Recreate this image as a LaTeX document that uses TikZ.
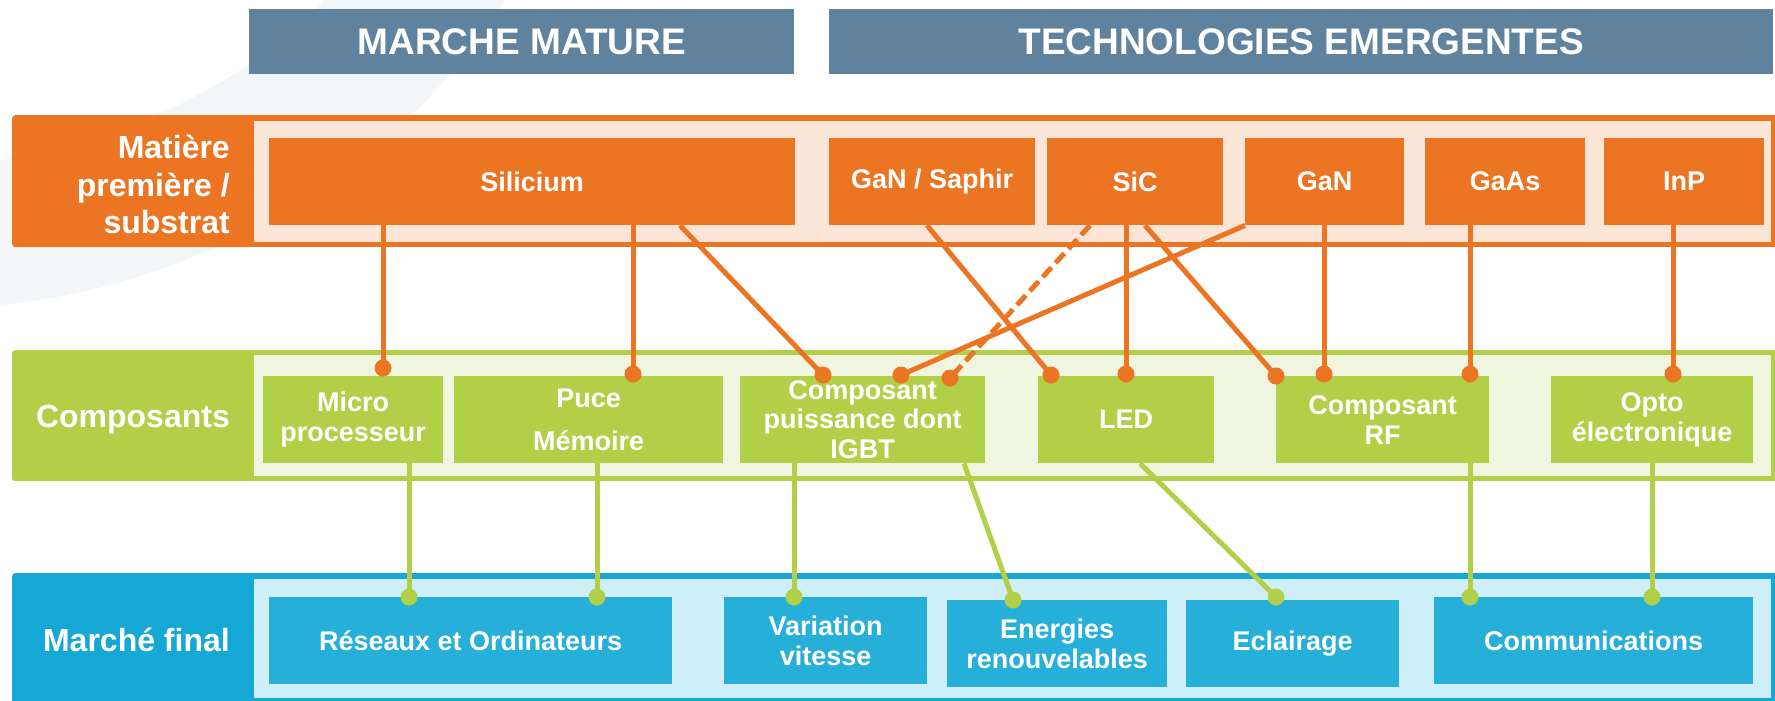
\documentclass[tikz,border=0pt]{standalone}
\usepackage{fontspec}
\setmainfont{Liberation Sans}
\definecolor{org}{HTML}{EC7523}
\definecolor{peach}{HTML}{FBE5D6}
\definecolor{grn}{HTML}{B1D048}
\definecolor{lgrn}{HTML}{EFF5DE}
\definecolor{blu}{HTML}{15A8D5}
\definecolor{mblu}{HTML}{26AFD8}
\definecolor{lblu}{HTML}{CFEFF8}
\definecolor{hdr}{HTML}{5F829E}
\definecolor{swoosh}{HTML}{F2F6F9}
\newcommand{\myheadfont}{\bfseries\fontsize{37}{42}\selectfont}
\newcommand{\myboxfont}{\bfseries\fontsize{27}{30}\selectfont}
\newcommand{\mycpufont}{\bfseries\fontsize{27}{29.5}\selectfont}
\newcommand{\mylabelfont}{\bfseries\fontsize{32}{37.5}\selectfont}
\begin{document}
\begin{tikzpicture}[x=1pt,y=-1pt,
  hdrbox/.style={fill=hdr, text=white, font=\myheadfont, inner sep=0pt, anchor=north west, minimum height=65pt},
  anybox/.style={text=white, font=\myboxfont, align=center, inner sep=0pt, anchor=north west, minimum height=87pt},
  obox/.style={anybox, fill=org},
  gbox/.style={anybox, fill=grn},
  bbox/.style={anybox, fill=mblu},
  labbox/.style={inner sep=0pt, anchor=north west, minimum width=238pt, rounded corners=3pt},
  labtext/.style={text=white, font=\mylabelfont, align=right, anchor=east, inner sep=0pt},
  oline/.style={draw=org, line width=5pt},
  gline/.style={draw=grn, line width=5pt},
  odot/.style={circle, fill=org, inner sep=0pt, minimum size=17pt},
  gdot/.style={circle, fill=grn, inner sep=0pt, minimum size=17pt}
]
\useasboundingbox (0,0) rectangle (1775,701);
% background swoosh
\fill[swoosh] (505,0) .. controls (440,110) and (260,280) .. (0,305) -- (0,160) .. controls (130,140) and (250,80) .. (325,0) -- cycle;

% headers
\node[hdrbox, minimum width=545pt] (hmm) at (249,9) {MARCHE MATURE};
\node[hdrbox, minimum width=944pt] (hte) at (829,9) {TECHNOLOGIES EMERGENTES};

% row frames
\fill[org] (245,115) rectangle (1775,247);
\fill[peach] (254,121) rectangle (1771,242);
\fill[grn] (245,350) rectangle (1775,481);
\fill[lgrn] (254,355) rectangle (1771,476);
\fill[blu] (245,573) rectangle (1775,701);
\fill[lblu] (254,579) rectangle (1771,698);

% row labels
\node[labbox, fill=org, minimum height=132pt] (lab1) at (12,115) {};
\node[labbox, fill=grn, minimum height=131pt] (lab2) at (12,350) {};
\node[labbox, fill=blu, minimum height=135pt] (lab3) at (12,573) {};
\node[labtext] (t1) at (230,184.5) {Matière\\première /\\substrat};
\node[labtext] (t2) at (230,419.5) {Composants};
\node[labtext] (t3) at (230,640) {Marché final};

% substrates
\node[obox, minimum width=526pt] (sil) at (269,138) {Silicium};
\node[obox, minimum width=206pt] (gans) at (829,138) {GaN / Saphir};
\node[obox, minimum width=176pt] (sic) at (1047,138) {SiC};
\node[obox, minimum width=159pt] (gan) at (1245,138) {GaN};
\node[obox, minimum width=160pt] (gaas) at (1425,138) {GaAs};
\node[obox, minimum width=160pt] (inp) at (1604,138) {InP};

% components
\node[gbox, minimum width=180pt] (micro) at (263,376) {Micro\\processeur};
\node[gbox, minimum width=269pt] (puce) at (454,376) {Puce\\[13pt]Mémoire};
\node[gbox, minimum width=245pt, font=\mycpufont] (cpu) at (740,376) {Composant\\puissance dont\\IGBT};
\node[gbox, minimum width=176pt] (led) at (1038,376) {LED};
\node[gbox, minimum width=213pt] (rf) at (1276,376) {Composant\\RF};
\node[gbox, minimum width=202pt] (opto) at (1551,376) {Opto\\électronique};

% markets
\node[bbox, minimum width=403pt] (res) at (269,597) {Réseaux et Ordinateurs};
\node[bbox, minimum width=203pt] (var) at (724,597) {Variation\\vitesse};
\node[bbox, minimum width=220pt] (ener) at (947,600) {Energies\\renouvelables};
\node[bbox, minimum width=213pt] (ecl) at (1186,600) {Eclairage};
\node[bbox, minimum width=319pt] (comm) at (1434,597) {Communications};

% orange dots
\node[odot] (dmi) at (383,368) {};
\node[odot] (dpu) at (633,374) {};
\node[odot] (dcpa) at (823,375) {};
\node[odot] (dcpb) at (901,375) {};
\node[odot] (dcpc) at (950,378) {};
\node[odot] (dlea) at (1051,375) {};
\node[odot] (dleb) at (1126,374) {};
\node[odot] (drfa) at (1276,376) {};
\node[odot] (drfb) at (1324,374) {};
\node[odot] (drfc) at (1470,374) {};
\node[odot] (dop) at (1673,374) {};

% green dots
\node[gdot] (gra) at (409,597) {};
\node[gdot] (grb) at (597,597) {};
\node[gdot] (gva) at (794,597) {};
\node[gdot] (gen) at (1013,600) {};
\node[gdot] (gec) at (1276,597) {};
\node[gdot] (gca) at (1470,597) {};
\node[gdot] (gcb) at (1652,597) {};

% orange connectors
\draw[oline] (sil.south -| dmi) -- (dmi.center);
\draw[oline] (sil.south -| dpu) -- (dpu.center);
\draw[oline] ([xshift=411pt]sil.south west) -- (dcpa.center);
\draw[oline] ([xshift=98pt]gans.south west) -- (dlea.center);
\draw[oline, dash pattern=on 13pt off 6pt] ([xshift=43pt]sic.south west) -- (dcpc.center);
\draw[oline] (sic.south -| dleb) -- (dleb.center);
\draw[oline] ([xshift=98pt]sic.south west) -- (drfa.center);
\draw[oline] (gan.south west) -- (dcpb.center);
\draw[oline] (gan.south -| drfb) -- (drfb.center);
\draw[oline] (gaas.south -| drfc) -- (drfc.center);
\draw[oline] (inp.south -| dop) -- (dop.center);

% green connectors
\draw[gline] (micro.south -| gra) -- (gra.center);
\draw[gline] (puce.south -| grb) -- (grb.center);
\draw[gline] (cpu.south -| gva) -- (gva.center);
\draw[gline] ([xshift=224pt]cpu.south west) -- (gen.center);
\draw[gline] ([xshift=102pt]led.south west) -- (gec.center);
\draw[gline] (rf.south -| gca) -- (gca.center);
\draw[gline] (opto.south -| gcb) -- (gcb.center);
\end{tikzpicture}
\end{document}
